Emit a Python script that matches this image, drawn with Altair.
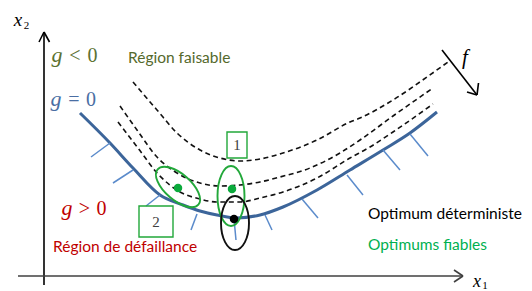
import altair as alt
import pandas as pd

# ---- data (diagram coordinates, y grows downward) ----
g0_x = [80, 110, 133, 160, 183, 200, 217, 237, 260, 283, 317, 350, 383, 410, 437]
g0_y = [113, 143, 168, 195, 205, 211, 215, 218, 215, 207, 190, 170, 150, 133, 112]

inner_x = [118, 138, 158, 180, 200, 217, 240, 260, 283, 317, 350, 370, 393, 433]
inner_y = [122, 148, 174, 192, 199, 202, 202, 198, 192, 178, 158, 147, 132, 104]

middle_x = [120, 137, 157, 177, 200, 220, 240, 260, 280, 310, 340, 360, 393, 433]
middle_y = [106, 130, 157, 173, 183, 186, 185, 182, 177, 168, 153, 140, 116, 88]

outer_x = [133, 157, 177, 200, 220, 240, 260, 283, 317, 350, 360, 393, 427, 448]
outer_y = [82, 110, 133, 150, 158, 161, 159, 153, 140, 122, 118, 100, 77, 62]

hatch_x = [110, 133, 160, 197, 234, 265, 302, 347, 383, 410]
hatch_y = [143, 170, 195, 214, 219, 215, 199, 175, 150, 134]
hatch_x2 = [91, 113, 146, 191, 236, 272, 318, 363, 400, 428]
hatch_y2 = [157, 183, 206, 230, 240, 230, 218, 195, 170, 156]

ell_x = [178, 231, 235]
ell_y = [187, 196, 223]
ell_a = [27, 30, 27]
ell_b = [13, 13.5, 14]
ell_angle = [41, 90, 90]
ell_color = ["#22A83A", "#22A83A", "#111111"]

dot_x = [178, 232, 234]
dot_y = [188, 189, 219]
dot_color = ["#0BAA3C", "#0BAA3C", "#000000"]

box_x = [227, 139]
box_x2 = [247, 173]
box_y = [132, 206]
box_y2 = [158, 237]
box_label = ["1", "2"]

seg_x = [44, 44, 44, 18, 463, 463, 442, 477, 477]
seg_y = [285, 32, 32, 276, 276, 276, 50, 95, 95]
seg_x2 = [44, 39, 49.5, 463, 454, 454, 477, 467, 478.5]
seg_y2 = [32, 42, 42, 276, 270, 282, 95, 92, 83]
seg_color = ["#000000", "#000000", "#000000", "#404040", "#404040", "#404040",
             "#000000", "#000000", "#000000"]

label_text = ["Région faisable", "Région de défaillance", "Optimum déterministe", "Optimums fiables"]
label_x = [128, 53, 368, 368]
label_y = [58, 247, 214, 245]
label_color = ["#55692C", "#C00000", "#000000", "#00B050"]

math_text = ["<", "0", "=", "0", ">", "0"]
math_x = [75, 92.5, 74, 91, 84.5, 101.5]
math_y = [62, 62, 106, 106, 215, 215]
math_color = ["#5B7131", "#5B7131", "#4A6EA3", "#4A6EA3", "#C00000", "#C00000"]

ital_text = ["g", "g", "g", "x", "x", "f"]
ital_x = [57, 56, 67, 18, 477, 465]
ital_y = [62, 106, 215, 26, 287, 64]
ital_color = ["#5B7131", "#4A6EA3", "#C00000", "#000000", "#000000", "#000000"]
ital_size = [22, 22, 22, 19, 18, 21]

sub_text = ["2", "1"]
sub_x = [26.5, 485]
sub_y = [29, 289]

# ---- chart ----
W, H = 516, 283
xs = alt.Scale(domain=[8, 8 + W], nice=False, zero=False)
ys = alt.Scale(domain=[8, 8 + H], nice=False, zero=False, reverse=True)
X = lambda f: alt.X(f, type="quantitative", scale=xs, axis=None)
Y = lambda f: alt.Y(f, type="quantitative", scale=ys, axis=None)

def curve_df(name, xv, yv):
    return pd.DataFrame({"x": xv, "y": yv, "c": name})

dashed = pd.concat([curve_df("inner", inner_x, inner_y),
                    curve_df("middle", middle_x, middle_y),
                    curve_df("outer", outer_x, outer_y)])

dash_layer = alt.Chart(dashed).mark_line(
    interpolate="monotone", color="#111111", strokeWidth=1.6, strokeDash=[5, 3.5]
).encode(x=X("x"), y=Y("y"), detail="c:N")

g0_layer = alt.Chart(curve_df("g0", g0_x, g0_y)).mark_line(
    interpolate="monotone", color="#3C659A", strokeWidth=3
).encode(x=X("x"), y=Y("y"))

hatch_layer = alt.Chart(pd.DataFrame({"x": hatch_x, "y": hatch_y, "x2": hatch_x2, "y2": hatch_y2})).mark_rule(
    color="#5B8BCB", strokeWidth=1.5
).encode(x=X("x"), y=Y("y"), x2="x2", y2="y2")

ell_df = pd.DataFrame({
    "x": ell_x, "y": ell_y, "angle": ell_angle, "color": ell_color,
    "shape": ["M -1 0 A 1 %.4f 0 1 0 1 0 A 1 %.4f 0 1 0 -1 0 Z" % (b / a, b / a) for a, b in zip(ell_a, ell_b)],
    "size": [(2 * a) ** 2 for a in ell_a],
})
ell_layer = alt.Chart(ell_df).mark_point(filled=False, strokeWidth=1.9, opacity=1).encode(
    x=X("x"), y=Y("y"),
    shape=alt.Shape("shape:N", scale=None),
    size=alt.Size("size:Q", scale=None),
    angle=alt.Angle("angle:Q", scale=None),
    stroke=alt.Stroke("color:N", scale=None),
)

dot_layer = alt.Chart(pd.DataFrame({"x": dot_x, "y": dot_y, "color": dot_color})).mark_circle(
    size=72, opacity=1
).encode(x=X("x"), y=Y("y"), color=alt.Color("color:N", scale=None))

box_df = pd.DataFrame({"x": box_x, "x2": box_x2, "y": box_y, "y2": box_y2, "t": box_label,
                       "cx": [(a + b) / 2 for a, b in zip(box_x, box_x2)],
                       "cy": [(a + b) / 2 for a, b in zip(box_y, box_y2)]})
box_layer = alt.Chart(box_df).mark_rect(fill=None, stroke="#22A83A", strokeWidth=1.4).encode(
    x=X("x"), x2="x2", y=Y("y"), y2="y2")
box_text = alt.Chart(box_df).mark_text(font="Liberation Serif", fontSize=15, color="#404040",
                                       baseline="middle", align="center").encode(
    x=X("cx"), y=Y("cy"), text="t:N")

seg_layer = alt.Chart(pd.DataFrame({"x": seg_x, "y": seg_y, "x2": seg_x2, "y2": seg_y2, "color": seg_color})).mark_rule(
    strokeWidth=1.6
).encode(x=X("x"), y=Y("y"), x2="x2", y2="y2", color=alt.Color("color:N", scale=None))

label_layer = alt.Chart(pd.DataFrame({"x": label_x, "y": label_y, "t": label_text, "color": label_color})).mark_text(
    font="Lato", fontSize=15.5, align="left", baseline="middle"
).encode(x=X("x"), y=Y("y"), text="t:N", color=alt.Color("color:N", scale=None))

math_layer = alt.Chart(pd.DataFrame({"x": math_x, "y": math_y, "t": math_text, "color": math_color})).mark_text(
    font="Liberation Serif", fontSize=20, align="center", baseline="alphabetic"
).encode(x=X("x"), y=Y("y"), text="t:N", color=alt.Color("color:N", scale=None))

ital_layer = alt.Chart(pd.DataFrame({"x": ital_x, "y": ital_y, "t": ital_text, "color": ital_color, "s": ital_size})).mark_text(
    font="Liberation Serif", fontStyle="italic", align="center", baseline="alphabetic"
).encode(x=X("x"), y=Y("y"), text="t:N", color=alt.Color("color:N", scale=None),
         size=alt.Size("s:Q", scale=None))

sub_layer = alt.Chart(pd.DataFrame({"x": sub_x, "y": sub_y, "t": sub_text})).mark_text(
    font="Liberation Serif", fontSize=11, align="center", baseline="alphabetic", color="#000000"
).encode(x=X("x"), y=Y("y"), text="t:N")

chart = alt.layer(
    dash_layer, g0_layer, hatch_layer, ell_layer, dot_layer, box_layer, box_text,
    seg_layer, label_layer, math_layer, ital_layer, sub_layer
).properties(width=W, height=H, padding=0, autosize="none", background="white"
).configure_view(strokeWidth=0)

chart.save("out.html", embed_options={"renderer": "svg", "actions": False})
